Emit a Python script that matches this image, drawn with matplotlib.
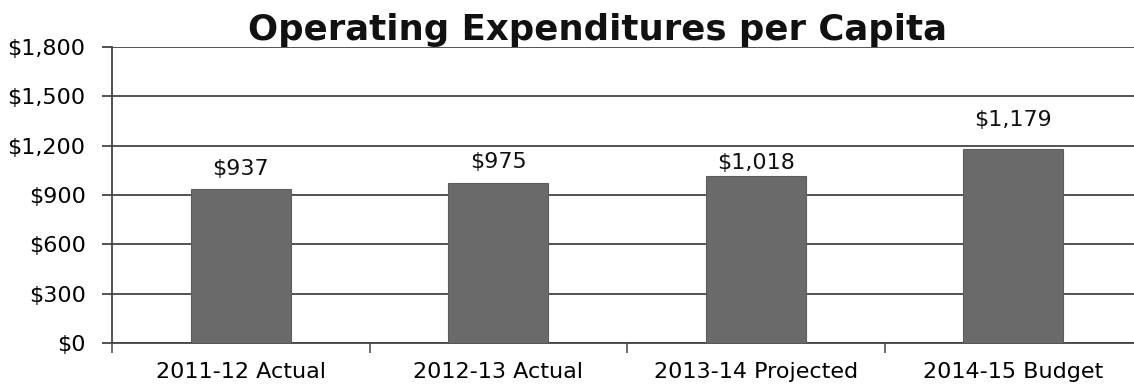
import matplotlib.pyplot as plt
from matplotlib.ticker import FuncFormatter, FixedLocator

categories = ["2011-12 Actual", "2012-13 Actual", "2013-14 Projected", "2014-15 Budget"]
values = [937, 975, 1018, 1179]
y_ticks = [0, 300, 600, 900, 1200, 1500, 1800]

# vertical gap (points) between each bar top and its value label
label_gaps = [10, 10.8, 5, 16.5]

W, H = 1134, 390
fig = plt.figure(figsize=(W / 100, H / 100), dpi=100)
fig.patch.set_facecolor("white")

left, right = 112, 1142
bottom, top = 343, 47
ax = fig.add_axes([left / W, 1 - bottom / H, (right - left) / W, (bottom - top) / H])

x = list(range(len(categories)))
ax.bar(x, values, width=0.39, color="#6a6a6a", edgecolor="#5c5c5c", linewidth=0.8, zorder=3)

ax.set_xlim(-0.5, len(categories) - 0.5)
ax.set_ylim(0, 1800)
ax.set_yticks(y_ticks)
ax.yaxis.set_major_formatter(FuncFormatter(lambda v, p: f"${v:,.0f}"))
ax.grid(axis="y", color="#444444", linewidth=1.3, zorder=1)

ax.set_xticks(x)
ax.set_xticklabels(categories)
ax.xaxis.set_minor_locator(FixedLocator([i - 0.5 for i in range(len(categories) + 1)]))
ax.tick_params(axis="x", which="major", length=0, pad=14, labelsize=16)
ax.tick_params(axis="x", which="minor", length=7, width=1.2, color="#555555", direction="out")
ax.tick_params(axis="y", length=7, width=1.3, color="#444444", labelsize=16, pad=12)

for s in ("top", "right"):
    ax.spines[s].set_visible(False)
ax.spines["left"].set_color("#444444")
ax.spines["left"].set_linewidth(1.3)
ax.spines["bottom"].set_color("#444444")
ax.spines["bottom"].set_linewidth(1.3)

for xi, v, g in zip(x, values, label_gaps):
    ax.annotate(f"${v:,.0f}", (xi, v), xytext=(0, g), textcoords="offset points",
                ha="center", va="baseline", fontsize=16, color="#111111")

fig.text(598 / W, 1 - 40 / H, "Operating Expenditures per Capita", ha="center", va="baseline",
         fontsize=25.6, fontweight="bold", color="#111111")

fig.savefig("out.png", dpi=100, facecolor="white")
